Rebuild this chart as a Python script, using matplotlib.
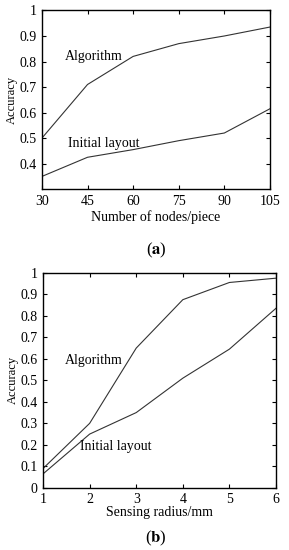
import matplotlib
matplotlib.use('Agg')
import matplotlib.pyplot as plt

plt.rcParams['mathtext.fontset'] = 'stix'

# panel (a)
nodes = [30, 45, 60, 75, 90, 105]
algo_a = [0.50, 0.71, 0.82, 0.87, 0.90, 0.935]
init_a = [0.35, 0.425, 0.455, 0.49, 0.52, 0.615]

# panel (b)
radius = [1, 2, 3, 4, 5, 6]
algo_b = [0.09, 0.30, 0.65, 0.875, 0.955, 0.975]
init_b = [0.065, 0.25, 0.35, 0.51, 0.645, 0.835]

SERIF = 'Liberation Serif'
LINE = '#333333'
FS = 10

fig = plt.figure(figsize=(2.89, 5.5), dpi=100)
fig.patch.set_facecolor('white')


def style(ax):
    ax.tick_params(direction='in', top=True, right=True, length=3, width=0.8,
                   labelsize=FS, pad=4)
    for lab in ax.get_xticklabels() + ax.get_yticklabels():
        lab.set_fontfamily(SERIF)
    for s in ax.spines.values():
        s.set_linewidth(1.0)


ax1 = fig.add_axes([0.145, 0.656, 0.789, 0.325])
ax1.plot(nodes, algo_a, color=LINE, lw=0.8)
ax1.plot(nodes, init_a, color=LINE, lw=0.8)
ax1.set_xlim(30, 105)
ax1.set_ylim(0.30, 1.0)
ax1.set_xticks(nodes)
ax1.set_yticks([0.4, 0.5, 0.6, 0.7, 0.8, 0.9, 1.0])
ax1.set_yticklabels(['0.4', '0.5', '0.6', '0.7', '0.8', '0.9', '1'])
ax1.text(37.6, 0.82, 'Algorithm', family=SERIF, fontsize=FS, va='center')
ax1.text(38.5, 0.48, 'Initial layout', family=SERIF, fontsize=FS, va='center')
ax1.set_xlabel('Number of nodes/piece', family=SERIF, fontsize=FS, labelpad=2)
ax1.set_ylabel('Accuracy', family=SERIF, fontsize=9, labelpad=1)
style(ax1)

ax2 = fig.add_axes([0.149, 0.113, 0.806, 0.391])
ax2.plot(radius, algo_b, color=LINE, lw=0.8)
ax2.plot(radius, init_b, color=LINE, lw=0.8)
ax2.set_xlim(1, 6)
ax2.set_ylim(0, 1.0)
ax2.set_xticks(radius)
ax2.set_yticks([0, 0.1, 0.2, 0.3, 0.4, 0.5, 0.6, 0.7, 0.8, 0.9, 1.0])
ax2.set_yticklabels(['0', '0.1', '0.2', '0.3', '0.4', '0.5', '0.6', '0.7',
                     '0.8', '0.9', '1'])
ax2.text(1.47, 0.59, 'Algorithm', family=SERIF, fontsize=FS, va='center')
ax2.text(1.79, 0.19, 'Initial layout', family=SERIF, fontsize=FS, va='center')
ax2.set_xlabel('Sensing radius/mm', family=SERIF, fontsize=FS, labelpad=0)
ax2.set_ylabel('Accuracy', family=SERIF, fontsize=9, labelpad=1)
style(ax2)

fig.text(0.54, 1 - 250 / 550, r'($\mathbf{a}$)', ha='center', va='center',
         fontsize=12, family=SERIF)
fig.text(0.54, 1 - 538 / 550, r'($\mathbf{b}$)', ha='center', va='center',
         fontsize=12, family=SERIF)

fig.savefig('out.png', dpi=100, facecolor='white')
